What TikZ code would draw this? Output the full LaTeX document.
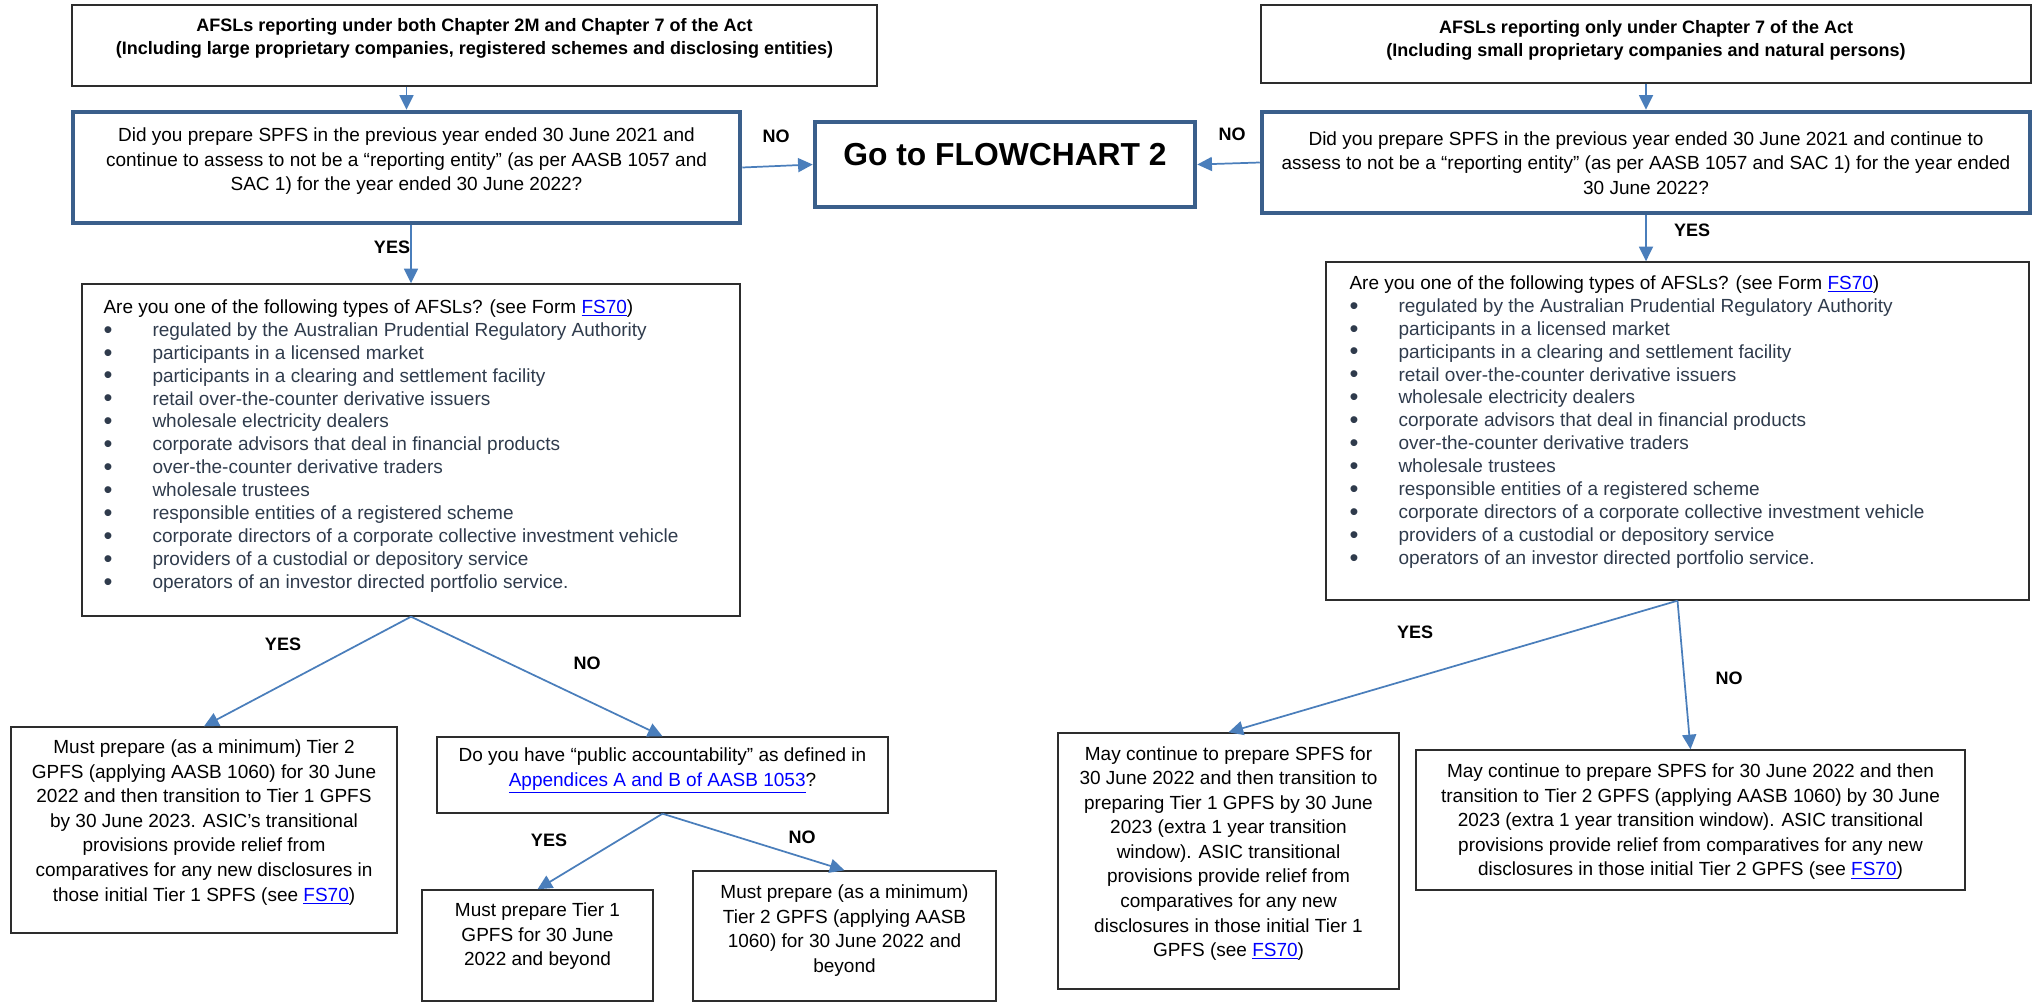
\documentclass[tikz,border=0pt]{standalone}
\usepackage{fontspec}
\setmainfont{Liberation Sans}
\usetikzlibrary{arrows.meta,fit}

\definecolor{qblue}{RGB}{58,95,139}
\definecolor{flowblue}{RGB}{74,126,187}
\definecolor{boxgray}{RGB}{45,45,45}
\definecolor{itemgray}{RGB}{47,59,76}
\definecolor{linkblue}{RGB}{0,0,255}

\newcommand{\lnk}[1]{\textcolor{linkblue}{\underline{#1}}}
\newcommand{\itm}[1]{{\color{itemgray}\makebox[36.75pt][l]{\raisebox{-1.4pt}{\fontsize{19pt}{19pt}\selectfont •}}#1}}

\tikzset{every picture/.style={line width=0.75pt}}
\tikzset{
  plainbox/.style={draw=boxgray, line width=1.05pt, inner sep=0pt},
  qbox/.style={draw=qblue, line width=3.4pt, inner sep=0pt},
  flow/.style={draw=flowblue, line width=1.3pt, -{Triangle[length=11pt,width=10.5pt]}},
  lbl/.style={inner sep=0.75pt, font=\fontsize{13.5pt}{16pt}\selectfont\bfseries},
  boxtext/.style={inner sep=0.75pt, align=center, font=\fontsize{14.25pt}{18.4pt}\selectfont},
  headtext/.style={inner sep=0.75pt, align=center, font=\fontsize{13.5pt}{17.25pt}\selectfont\bfseries},
  listtext/.style={inner sep=0.75pt, align=left, anchor=north west, font=\fontsize{14.25pt}{17.2pt}\selectfont}
}

\begin{document}
\begin{tikzpicture}[x=0.75pt,y=0.75pt,yscale=-1,xscale=1]
	%set diagram size to 2037 x 1003
	\useasboundingbox (0,0) rectangle (2037,1003);
	
	%Shape: Rectangle [id:box1] 
	\node [plainbox, fit={(72,5) (877,86)}] (box1) {};
	%Shape: Rectangle [id:box2] 
	\node [plainbox, fit={(1261,5) (2031,83)}] (box2) {};
	%Shape: Rectangle [id:q1] 
	\node [qbox, fit={(73,112) (740,223)}] (q1) {};
	%Shape: Rectangle [id:q2] 
	\node [qbox, fit={(1262,112) (2030,213)}] (q2) {};
	%Shape: Rectangle [id:fc2] 
	\node [qbox, fit={(815,122) (1195,207)}] (fc2) {};
	%Shape: Rectangle [id:ltypes] 
	\node [plainbox, fit={(82,284) (740,616)}] (ltypes) {};
	%Shape: Rectangle [id:rtypes] 
	\node [plainbox, fit={(1326,262) (2029,600)}] (rtypes) {};
	%Shape: Rectangle [id:tiertwo] 
	\node [plainbox, fit={(11,727) (397,933)}] (tiertwo) {};
	%Shape: Rectangle [id:pacc] 
	\node [plainbox, fit={(437,737) (888,813)}] (pacc) {};
	%Shape: Rectangle [id:tierone] 
	\node [plainbox, fit={(422,890) (653,1001)}] (tierone) {};
	%Shape: Rectangle [id:mintwo] 
	\node [plainbox, fit={(693,871) (996,1001)}] (mintwo) {};
	%Shape: Rectangle [id:mayone] 
	\node [plainbox, fit={(1058,733) (1399,989)}] (mayone) {};
	%Shape: Rectangle [id:maytwo] 
	\node [plainbox, fit={(1416,750) (1965,890)}] (maytwo) {};
	
	%Straight Lines [id:top] 
	\draw [flow] (q1.north |- box1.south) -- (q1.north);
	\draw [flow] (box2.south) -- (q2.north);
	%Straight Lines [id:goto] 
	\draw [flow] (q1.east) -- (fc2.west);
	\draw [flow] (q2.west) -- (fc2.east);
	%Straight Lines [id:types] 
	\draw [flow] (ltypes.north |- q1.south) -- (ltypes.north);
	\draw [flow] (q2.south) -- (q2.south |- rtypes.north);
	%Straight Lines [id:left] 
	\draw [flow] (ltypes.south) -- (tiertwo.north);
	\draw [flow] (ltypes.south) -- (pacc.north);
	\draw [flow] (pacc.south) -- (tierone.north);
	\draw [flow] (pacc.south) -- (mintwo.north);
	%Straight Lines [id:right] 
	\draw [flow] (rtypes.south) -- (mayone.north);
	\draw [flow] (rtypes.south) -- (maytwo.north);
	
	% Text Node
	\draw (474.5,38.5) node [headtext] (box1txt) {AFSLs reporting under both Chapter 2M and Chapter 7 of the Act\\(Including large proprietary companies, registered schemes and disclosing entities)};
	% Text Node
	\draw (1646,40) node [headtext] (box2txt) {AFSLs reporting only under Chapter 7 of the Act\\(Including small proprietary companies and natural persons)};
	% Text Node
	\draw (406.5,161.5) node [boxtext] (q1txt) {Did you prepare SPFS in the previous year ended 30 June 2021 and\\continue to assess to not be a “reporting entity” (as per AASB 1057 and\\SAC 1) for the year ended 30 June 2022?};
	% Text Node
	\draw (1646,163) node [boxtext] (q2txt) {Did you prepare SPFS in the previous year ended 30 June 2021 and continue to\\assess to not be a “reporting entity” (as per AASB 1057 and SAC 1) for the year ended\\30 June 2022?};
	% Text Node
	\draw (1005,155) node [inner sep=0.75pt, font=\fontsize{23.85pt}{28pt}\selectfont\bfseries] (fc2txt) {Go to FLOWCHART 2};
	% Text Node
	\draw (102,298) node [listtext] (ltypestxt) {Are you one of the following types of AFSLs? (see Form \lnk{FS70})\\
		\itm{regulated by the Australian Prudential Regulatory Authority}\\
		\itm{participants in a licensed market}\\
		\itm{participants in a clearing and settlement facility}\\
		\itm{retail over-the-counter derivative issuers}\\
		\itm{wholesale electricity dealers}\\
		\itm{corporate advisors that deal in financial products}\\
		\itm{over-the-counter derivative traders}\\
		\itm{wholesale trustees}\\
		\itm{responsible entities of a registered scheme}\\
		\itm{corporate directors of a corporate collective investment vehicle}\\
		\itm{providers of a custodial or depository service}\\
		\itm{operators of an investor directed portfolio service.}};
	% Text Node
	\draw (1348,274) node [listtext] (rtypestxt) {Are you one of the following types of AFSLs? (see Form \lnk{FS70})\\
		\itm{regulated by the Australian Prudential Regulatory Authority}\\
		\itm{participants in a licensed market}\\
		\itm{participants in a clearing and settlement facility}\\
		\itm{retail over-the-counter derivative issuers}\\
		\itm{wholesale electricity dealers}\\
		\itm{corporate advisors that deal in financial products}\\
		\itm{over-the-counter derivative traders}\\
		\itm{wholesale trustees}\\
		\itm{responsible entities of a registered scheme}\\
		\itm{corporate directors of a corporate collective investment vehicle}\\
		\itm{providers of a custodial or depository service}\\
		\itm{operators of an investor directed portfolio service.}};
	% Text Node
	\draw (204,822.5) node [boxtext] (tiertwotxt) {Must prepare (as a minimum) Tier 2\\GPFS (applying AASB 1060) for 30 June\\2022 and then transition to Tier 1 GPFS\\by 30 June 2023. ASIC’s transitional\\provisions provide relief from\\comparatives for any new disclosures in\\those initial Tier 1 SPFS (see \lnk{FS70})};
	% Text Node
	\draw (662.5,770.5) node [boxtext] (pacctxt) {Do you have “public accountability” as defined in\\\lnk{Appendices A and B of AASB 1053}?};
	% Text Node
	\draw (537.5,936.5) node [boxtext] (tieronetxt) {Must prepare Tier 1\\GPFS for 30 June\\2022 and beyond};
	% Text Node
	\draw (844.5,930.5) node [boxtext] (mintwotxt) {Must prepare (as a minimum)\\Tier 2 GPFS (applying AASB\\1060) for 30 June 2022 and\\beyond};
	% Text Node
	\draw (1228.5,853.5) node [boxtext] (mayonetxt) {May continue to prepare SPFS for\\30 June 2022 and then transition to\\preparing Tier 1 GPFS by 30 June\\2023 (extra 1 year transition\\window). ASIC transitional\\provisions provide relief from\\comparatives for any new\\disclosures in those initial Tier 1\\GPFS (see \lnk{FS70})};
	% Text Node
	\draw (1690.5,822) node [boxtext] (maytwotxt) {May continue to prepare SPFS for 30 June 2022 and then\\transition to Tier 2 GPFS (applying AASB 1060) by 30 June\\2023 (extra 1 year transition window). ASIC transitional\\provisions provide relief from comparatives for any new\\disclosures in those initial Tier 2 GPFS (see \lnk{FS70})};
	
	% Text Node
	\draw (776,136) node [lbl] (noa) {NO};
	% Text Node
	\draw (1232,134) node [lbl] (nob) {NO};
	% Text Node
	\draw (392,247) node [lbl] (yesa) {YES};
	% Text Node
	\draw (1692,230) node [lbl] (yesb) {YES};
	% Text Node
	\draw (283,644) node [lbl] (yesc) {YES};
	% Text Node
	\draw (587,663) node [lbl] (noc) {NO};
	% Text Node
	\draw (549,840) node [lbl] (yesd) {YES};
	% Text Node
	\draw (802,837) node [lbl] (nod) {NO};
	% Text Node
	\draw (1415,632) node [lbl] (yese) {YES};
	% Text Node
	\draw (1729,678) node [lbl] (noe) {NO};
	
\end{tikzpicture}
\end{document}
